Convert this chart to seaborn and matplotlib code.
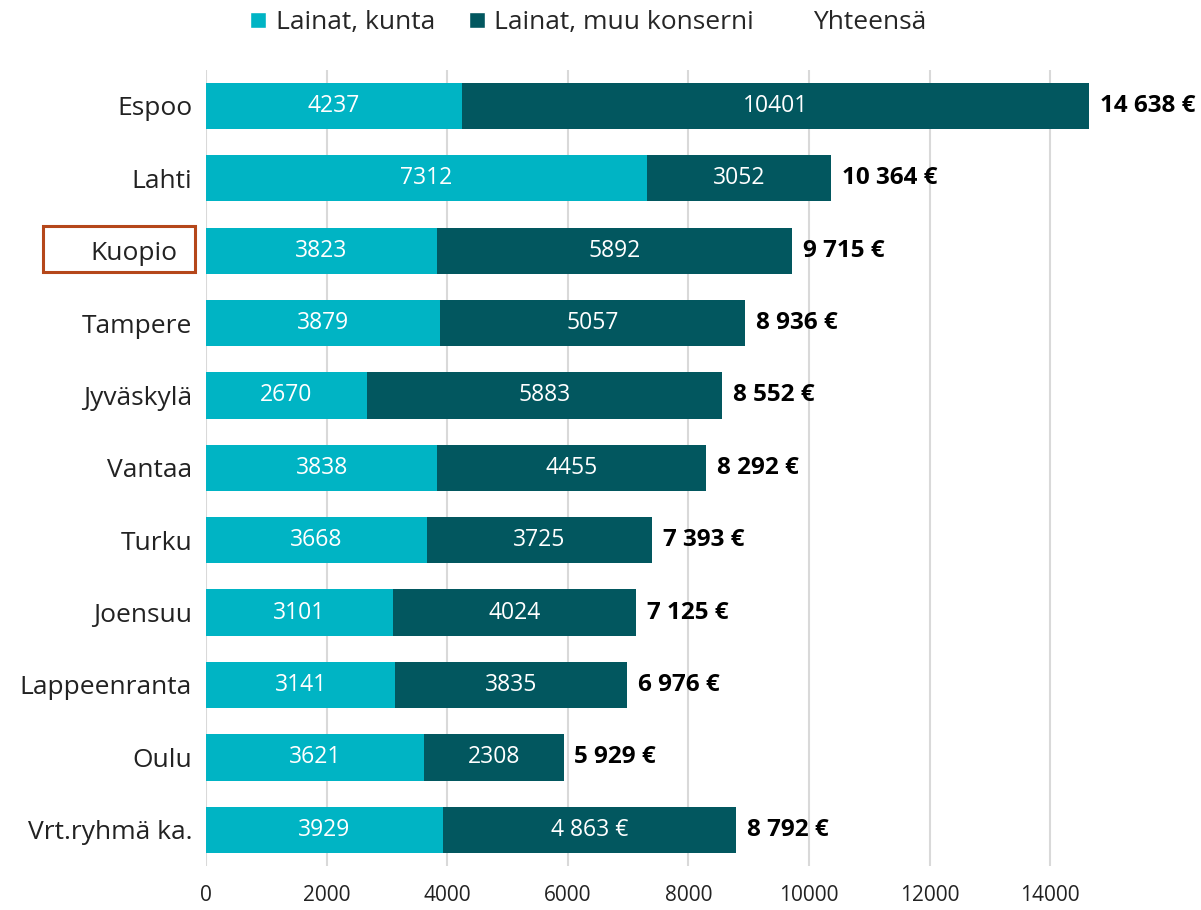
import numpy as np
import pandas as pd
import seaborn as sns
import matplotlib.pyplot as plt
from matplotlib.patches import Patch, Rectangle
from matplotlib.transforms import ScaledTranslation

# data
cities = ["Espoo", "Lahti", "Kuopio", "Tampere", "Jyväskylä", "Vantaa",
          "Turku", "Joensuu", "Lappeenranta", "Oulu", "Vrt.ryhmä ka."]
kunta = [4237, 7312, 3823, 3879, 2670, 3838, 3668, 3101, 3141, 3621, 3929]
muu = [10401, 3052, 5892, 5057, 5883, 4455, 3725, 4024, 3835, 2308, 4863]
muu_labels = ["10401", "3052", "5892", "5057", "5883", "4455", "3725",
              "4024", "3835", "2308", "4 863 €"]
total_labels = ["14 638 €", "10 364 €", "9 715 €", "8 936 €", "8 552 €", "8 292 €",
                "7 393 €", "7 125 €", "6 976 €", "5 929 €", "8 792 €"]
ticks = [0, 2000, 4000, 6000, 8000, 10000, 12000, 14000]

c_kunta = "#00B4C4"
c_muu = "#02575F"

sns.set_style("white")
plt.rcParams['font.family'] = ['Open Sans', 'DejaVu Sans']

df = pd.DataFrame({"city": cities, "kunta": kunta, "muu": muu})
df["total"] = df["kunta"] + df["muu"]

fig = plt.figure(figsize=(12.01, 9.10), dpi=100)
ax = fig.add_axes([0.1715, 0.0484, 0.8035, 0.875])

# stacked: total in dark colour, kunta on top of it
sns.barplot(data=df, y="city", x="total", color=c_muu, orient="h",
            width=0.64, saturation=1, linewidth=0, ax=ax)
sns.barplot(data=df, y="city", x="kunta", color=c_kunta, orient="h",
            width=0.64, saturation=1, linewidth=0, ax=ax)

for i in range(len(cities)):
    ax.text(kunta[i] / 2, i, str(kunta[i]), color="white", ha="center",
            va="center", fontsize=16.5)
    ax.text(kunta[i] + muu[i] / 2, i, muu_labels[i], color="white",
            ha="center", va="center", fontsize=16.5)
    ax.text(kunta[i] + muu[i] + 180, i, total_labels[i], color="black",
            ha="left", va="center", fontsize=17.5, fontweight="bold")

ax.set_xlim(0, 16000)
ax.set_ylim(len(cities) - 0.5, -0.5)
ax.set_xticks(ticks)
ax.set_xticklabels([str(t) for t in ticks], fontsize=15, color="#222222")
ax.tick_params(axis="y", labelsize=19, pad=10, length=0, labelcolor="#222222")
ax.tick_params(axis="x", pad=14, length=0)
ax.set_xlabel("")
ax.set_ylabel("")
ax.grid(axis="x", color="#D9D9D9", linewidth=1.5)
ax.set_axisbelow(True)
for s in ax.spines.values():
    s.set_visible(False)

# Kuopio label sits a bit left inside its highlight box
kuopio = ax.get_yticklabels()[cities.index("Kuopio")]
kuopio.set_transform(kuopio.get_transform() + ScaledTranslation(-0.15, 0, fig.dpi_scale_trans))
fig.patches.append(Rectangle((43 / 1201, 1 - 272 / 910), 152 / 1201, 46 / 910,
                             transform=fig.transFigure, fill=False,
                             edgecolor="#B5471A", linewidth=2.2))

handles = [Patch(facecolor=c_kunta), Patch(facecolor=c_muu),
           Patch(facecolor="none", edgecolor="none")]
fig.legend(handles, ["Lainat, kunta", "Lainat, muu konserni", "Yhteensä"],
           loc="center", bbox_to_anchor=(0.49, 0.975), ncol=3, frameon=False,
           fontsize=19, handlelength=0.6, handleheight=0.6, handletextpad=0.35,
           columnspacing=1.3)

fig.savefig("out.png", dpi=100)
